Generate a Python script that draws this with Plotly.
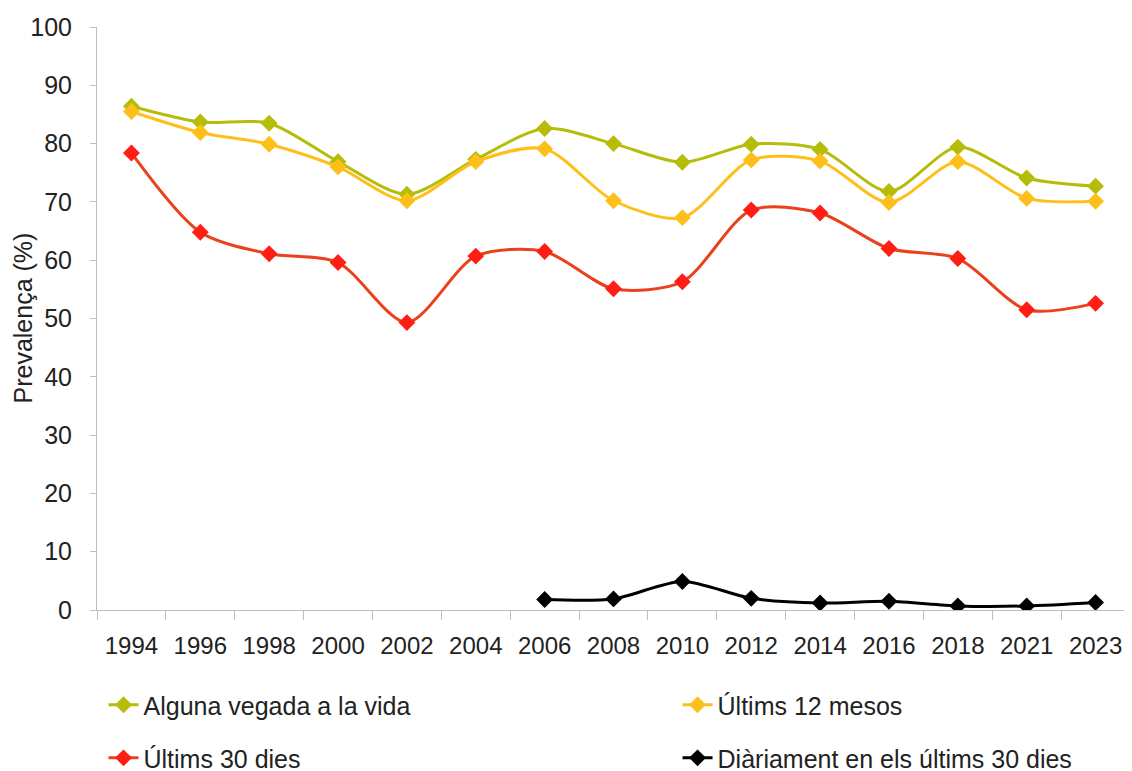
import plotly.graph_objects as go

# Data
years = ["1994", "1996", "1998", "2000", "2002", "2004", "2006", "2008",
         "2010", "2012", "2014", "2016", "2018", "2021", "2023"]

alguna_vegada = [86.4, 83.7, 83.5, 76.9, 71.3, 77.3, 82.6, 80.0,
                 76.8, 79.9, 79.0, 71.8, 79.4, 74.1, 72.7]
ultims_12 = [85.5, 81.9, 79.9, 76.0, 70.2, 76.9, 79.1, 70.2,
             67.3, 77.2, 77.0, 69.9, 76.9, 70.6, 70.1]
ultims_30 = [78.4, 64.8, 61.1, 59.6, 49.3, 60.7, 61.5, 55.1,
             56.3, 68.6, 68.1, 62.0, 60.3, 51.5, 52.6]
diariament = [None, None, None, None, None, None, 1.8, 1.9,
              4.9, 2.0, 1.2, 1.5, 0.7, 0.7, 1.3]

FONT = "Liberation Sans, Arial, sans-serif"

# name, values, line colour, marker colour, legend id, legend x, legend y
series = [
    ("Alguna vegada a la vida", alguna_vegada, "#b5bd0a", "#b5bd0a", "legend", 0.0063, -0.163),
    ("Últims 12 mesos", ultims_12, "#ffbf1a", "#ffbf1a", "legend2", 0.562, -0.163),
    ("Últims 30 dies", ultims_30, "#ea401c", "#ff1e14", "legend3", 0.0063, -0.254),
    ("Diàriament en els últims 30 dies", diariament, "#000000", "#000000", "legend4", 0.562, -0.254),
]

fig = go.Figure()
legends = {}
for name, vals, lc, mc, lg, lx, ly in series:
    fig.add_trace(go.Scatter(
        x=years, y=vals, name=name, mode="lines+markers",
        line=dict(color=lc, width=3, shape="spline", smoothing=0.8),
        marker=dict(symbol="diamond", size=13, color=mc),
        legend=lg, showlegend=True,
    ))
    legends[lg] = dict(
        x=lx, y=ly, xanchor="left", yanchor="middle", orientation="h",
        font=dict(family=FONT, size=25, color="#222222"),
        bgcolor="rgba(0,0,0,0)",
    )

# page body adds an 8px offset, margins account for it
fig.update_layout(
    width=1132, height=771,
    margin=dict(l=89, r=10, t=19, b=169, autoexpand=False),
    showlegend=True,
    paper_bgcolor="white", plot_bgcolor="white",
    font=dict(family=FONT, size=24, color="#222222"),
    xaxis=dict(
        type="category", range=[-0.5, len(years) - 0.5],
        showgrid=False, showline=True, linecolor="#bfbfbf",
        linewidth=1, ticks="outside", tickson="boundaries", ticklen=9,
        tickcolor="#bfbfbf", tickfont=dict(size=24), zeroline=False,
        ticklabelstandoff=14,
    ),
    yaxis=dict(
        range=[0, 100], dtick=10, showgrid=False, showline=True,
        linecolor="#bfbfbf", linewidth=1, ticks="outside", ticklen=6,
        tickcolor="#bfbfbf", tickfont=dict(size=25), zeroline=False,
        ticklabelstandoff=13,
    ),
    annotations=[dict(
        text="Prevalença (%)", textangle=-90, xref="paper", yref="paper",
        x=-0.0726, y=0.5, xanchor="center", yanchor="middle",
        showarrow=False, font=dict(size=25, color="#222222"),
    )],
    **legends,
)

fig.write_html("out.html")
